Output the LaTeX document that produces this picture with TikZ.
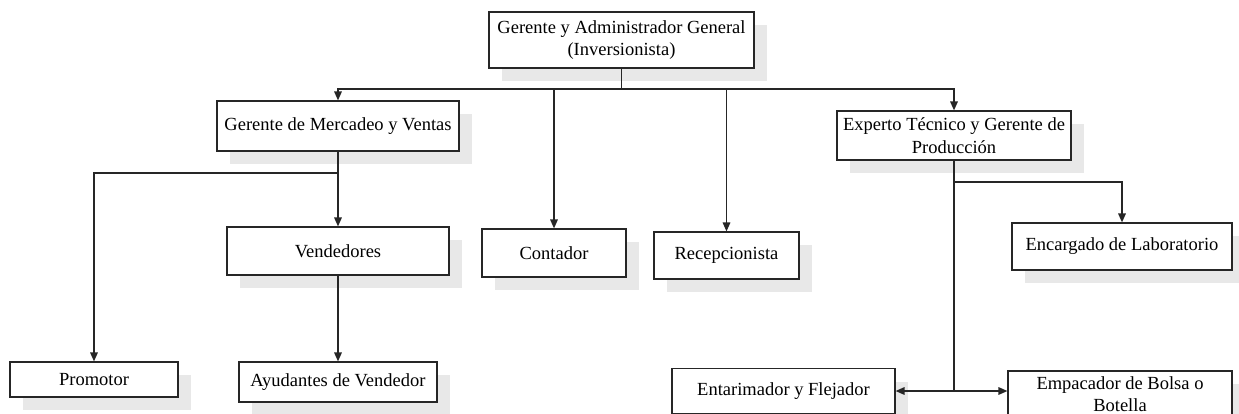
\documentclass[tikz,border=0pt]{standalone}
\usepackage{fontspec}
\setmainfont{Liberation Serif}
\usetikzlibrary{arrows.meta,shadows}
\begin{document}
\begin{tikzpicture}[x=1pt,y=-1pt,
  box/.style={draw=black!85, line width=1.1pt, fill=white, inner sep=0pt, align=center,
    font=\fontsize{18.5}{22.5}\selectfont,
    drop shadow={shadow xshift=13pt, shadow yshift=-13pt, fill=black!9, opacity=1}},
  conn/.style={draw=black!85, line width=1.6pt},
  arr/.style={conn, -{Triangle[length=9pt,width=7.5pt]}},
  darr/.style={conn, {Triangle[length=9pt,width=7.5pt]}-{Triangle[length=9pt,width=7.5pt]}}]
\useasboundingbox (0,0) rectangle (1239,414);
\begin{scope}
\clip (0,0) rectangle (1239,414);
% boxes
\node[box, minimum width=265pt, minimum height=56pt] (top) at (621.5,40) {Gerente y Administrador General\\(Inversionista)};
\node[box, minimum width=242pt, minimum height=50pt] (gmv) at (338,126) {Gerente de Mercadeo y Ventas};
\node[box, minimum width=144pt, minimum height=48pt] (cont) at (554,253) {Contador};
\node[box, minimum width=145pt, minimum height=47pt] (recep) at (726.5,255.5) {Recepcionista};
\node[box, minimum width=234pt, minimum height=49pt] (exp) at (954,135.5) {Experto Técnico y Gerente de\\Producción};
\node[box, minimum width=222pt, minimum height=48pt] (vend) at (338,251) {Vendedores};
\node[box, minimum width=168pt, minimum height=35pt] (prom) at (94,379.5) {Promotor};
\node[box, minimum width=198pt, minimum height=40pt] (ayud) at (338,382) {Ayudantes de Vendedor};
\node[box, minimum width=220pt, minimum height=47pt] (enc) at (1122,246.5) {Encargado de Laboratorio};
\node[box, minimum width=223pt, minimum height=45pt] (ent) at (783.5,391) {Entarimador y Flejador};
\node[box, minimum width=224pt, minimum height=46pt] (emp) at (1120,394) {Empacador de Bolsa o\\Botella};
% junctions
\coordinate (bus) at (621.5,89);
\coordinate (b1) at (338,173);
\coordinate (b2) at (954,182);
\coordinate (j2) at (954,391);
% connectors
\draw[conn] (top.south) -- (bus);
\draw[arr] (bus) -| (gmv.north);
\draw[arr] (bus) -| (exp.north);
\draw[arr] (cont.north |- bus) -- (cont.north);
\draw[arr] (recep.north |- bus) -- (recep.north);
\draw[arr] (gmv.south) -- (vend.north);
\draw[arr] (b1) -| (prom.north);
\draw[arr] (vend.south) -- (ayud.north);
\draw[conn] (exp.south) -- (j2);
\draw[arr] (b2) -| (enc.north);
\draw[arr] (j2) -- (ent.east);
\draw[arr] (j2) -- (j2 -| emp.west);
\end{scope}
\end{tikzpicture}
\end{document}
